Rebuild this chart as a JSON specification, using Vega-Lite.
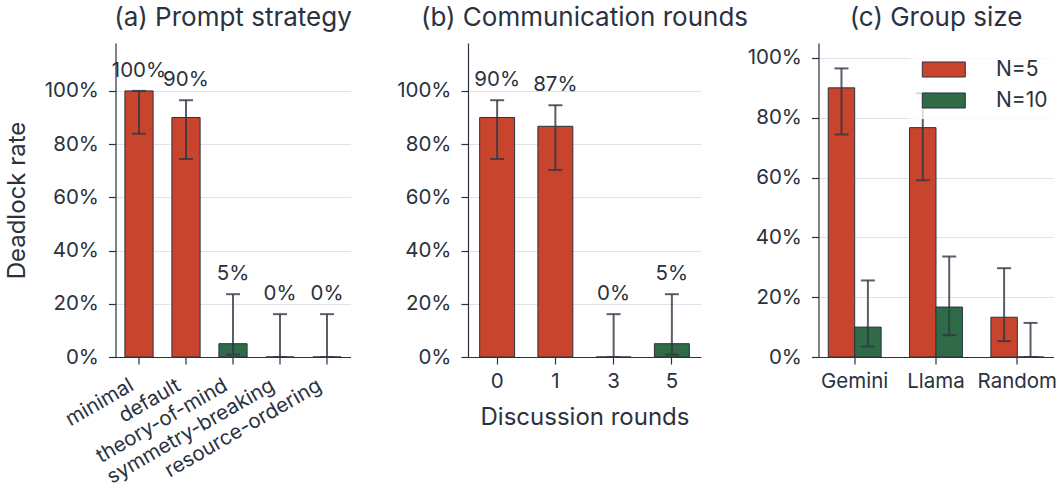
{
  "$schema": "https://vega.github.io/schema/vega-lite/v6.json",
  "background": "white",
  "padding": {"left": 4.5, "top": 5, "right": 3, "bottom": 2},
  "bounds": "flush",
  "spacing": 117.5,
  "config": {
    "font": "Inter",
    "view": {"stroke": null},
    "axis": {
      "labelFont": "Inter", "labelFontSize": 20.5, "labelColor": "#2a3240",
      "titleFont": "Inter", "titleFontSize": 24, "titleFontWeight": "normal", "titleColor": "#2a3240",
      "domainColor": "#2a3240", "domainWidth": 1.2,
      "tickColor": "#2a3240", "tickWidth": 1.2, "tickSize": 7,
      "gridColor": "#dfe2e8", "gridWidth": 1
    },
    "axisX": {"grid": false, "labelPadding": 7, "titlePadding": 14},
    "axisY": {"labelPadding": 10, "titlePadding": 15},
    "title": {"font": "Inter", "fontSize": 26, "fontWeight": "normal", "color": "#2a3240", "anchor": "middle", "baseline": "alphabetic", "offset": 12, "frame": "group"},
    "text": {"font": "Inter", "fontSize": 20.5, "color": "#2a3240"},
    "legend": {
      "title": null,
      "symbolType": "M-2,-0.7L2,-0.7L2,0.7L-2,0.7Z",
      "symbolSize": 462,
      "symbolStrokeColor": "#2a3240",
      "symbolStrokeWidth": 1,
      "symbolOpacity": 1,
      "symbolOffset": 13.8,
      "labelFont": "Inter",
      "labelFontSize": 21,
      "labelColor": "#2a3240",
      "labelOffset": 40.7,
      "rowPadding": 9,
      "padding": 8,
      "fillColor": "rgba(255,255,255,0.8)",
      "strokeColor": null
    }
  },
  "hconcat": [
    {
      "width": 235,
      "height": 314,
      "title": "(a) Prompt strategy",
      "data": {"values": [
        {"strategy": "minimal", "rate": 1.0, "lo": 0.839, "hi": 1.0},
        {"strategy": "default", "rate": 0.9, "lo": 0.744, "hi": 0.965},
        {"strategy": "theory-of-mind", "rate": 0.05, "lo": 0.009, "hi": 0.236},
        {"strategy": "symmetry-breaking", "rate": 0.0, "lo": 0.0, "hi": 0.161},
        {"strategy": "resource-ordering", "rate": 0.0, "lo": 0.0, "hi": 0.161}
      ]},
      "encoding": {
        "x": {"field": "strategy", "type": "nominal", "sort": null,
              "scale": {"paddingInner": 0.4, "paddingOuter": 0.2},
              "axis": {"title": null, "labelAngle": -30, "labelAlign": "right", "labelBaseline": "top", "labelPadding": 11, "labelOffset": -12, "labelLimit": 0}}
      },
      "layer": [
        {
          "mark": {"type": "bar", "stroke": "#2a3240", "strokeWidth": 1},
          "encoding": {
            "y": {"field": "rate", "type": "quantitative",
                  "scale": {"domain": [0, 1.18], "nice": false},
                  "axis": {"title": "Deadlock rate", "values": [0, 0.2, 0.4, 0.6, 0.8, 1.0], "format": ".0%"}},
            "color": {"condition": {"test": "datum.rate > 0.5", "value": "#c9442c"}, "value": "#2e6b46"}
          }
        },
        {
          "mark": {"type": "rule", "color": "#2f3744", "opacity": 0.8, "strokeWidth": 2},
          "encoding": {"y": {"field": "lo", "type": "quantitative"}, "y2": {"field": "hi"}}
        },
        {
          "mark": {"type": "tick", "color": "#2f3744", "opacity": 0.8, "size": 14, "thickness": 2},
          "encoding": {"y": {"field": "lo", "type": "quantitative"}}
        },
        {
          "mark": {"type": "tick", "color": "#2f3744", "opacity": 0.8, "size": 14, "thickness": 2},
          "encoding": {"y": {"field": "hi", "type": "quantitative"}}
        },
        {
          "mark": {"type": "text", "baseline": "middle", "dy": -20},
          "encoding": {"y": {"field": "hi", "type": "quantitative"}, "text": {"field": "rate", "type": "quantitative", "format": ".0%"}}
        }
      ]
    },
    {
      "width": 233,
      "height": 314,
      "title": "(b) Communication rounds",
      "data": {"values": [
        {"rounds": "0", "rate": 0.9, "lo": 0.744, "hi": 0.965},
        {"rounds": "1", "rate": 0.867, "lo": 0.703, "hi": 0.946},
        {"rounds": "3", "rate": 0.0, "lo": 0.0, "hi": 0.161},
        {"rounds": "5", "rate": 0.05, "lo": 0.009, "hi": 0.236}
      ]},
      "encoding": {
        "x": {"field": "rounds", "type": "nominal", "sort": null,
              "scale": {"paddingInner": 0.4, "paddingOuter": 0.2},
              "axis": {"title": "Discussion rounds", "labelAngle": 0}}
      },
      "layer": [
        {
          "mark": {"type": "bar", "stroke": "#2a3240", "strokeWidth": 1},
          "encoding": {
            "y": {"field": "rate", "type": "quantitative",
                  "scale": {"domain": [0, 1.18], "nice": false},
                  "axis": {"title": null, "values": [0, 0.2, 0.4, 0.6, 0.8, 1.0], "format": ".0%"}},
            "color": {"condition": {"test": "datum.rate > 0.5", "value": "#c9442c"}, "value": "#2e6b46"}
          }
        },
        {
          "mark": {"type": "rule", "color": "#2f3744", "opacity": 0.8, "strokeWidth": 2},
          "encoding": {"y": {"field": "lo", "type": "quantitative"}, "y2": {"field": "hi"}}
        },
        {
          "mark": {"type": "tick", "color": "#2f3744", "opacity": 0.8, "size": 14, "thickness": 2},
          "encoding": {"y": {"field": "lo", "type": "quantitative"}}
        },
        {
          "mark": {"type": "tick", "color": "#2f3744", "opacity": 0.8, "size": 14, "thickness": 2},
          "encoding": {"y": {"field": "hi", "type": "quantitative"}}
        },
        {
          "mark": {"type": "text", "baseline": "middle", "dy": -20},
          "encoding": {"y": {"field": "hi", "type": "quantitative"}, "text": {"field": "rate", "type": "quantitative", "format": ".0%"}}
        }
      ]
    },
    {
      "width": 235,
      "height": 314,
      "title": "(c) Group size",
      "resolve": {"scale": {"color": "independent"}, "legend": {"color": "independent"}},
      "data": {"values": [
        {"model": "Gemini", "N": "N=5", "rate": 0.9, "lo": 0.744, "hi": 0.965},
        {"model": "Gemini", "N": "N=10", "rate": 0.1, "lo": 0.035, "hi": 0.256},
        {"model": "Llama", "N": "N=5", "rate": 0.767, "lo": 0.591, "hi": 0.882},
        {"model": "Llama", "N": "N=10", "rate": 0.167, "lo": 0.073, "hi": 0.336},
        {"model": "Random", "N": "N=5", "rate": 0.133, "lo": 0.053, "hi": 0.297},
        {"model": "Random", "N": "N=10", "rate": 0.0, "lo": 0.0, "hi": 0.114}
      ]},
      "encoding": {
        "x": {"field": "model", "type": "nominal", "sort": null,
              "scale": {"paddingInner": 0.35, "paddingOuter": 0.12},
              "axis": {"title": null, "labelAngle": 0}},
        "xOffset": {"field": "N", "type": "nominal", "scale": {"domain": ["N=5", "N=10"], "paddingInner": 0, "paddingOuter": 0}}
      },
      "layer": [
        {
          "mark": {"type": "bar", "stroke": "#2a3240", "strokeWidth": 1},
          "encoding": {
            "y": {"field": "rate", "type": "quantitative",
                  "scale": {"domain": [0, 1.05], "nice": false},
                  "axis": {"title": null, "values": [0, 0.2, 0.4, 0.6, 0.8, 1.0], "format": ".0%"}},
            "color": {"field": "N", "type": "nominal",
                      "scale": {"domain": ["N=5", "N=10"], "range": ["#c9442c", "#2e6b46"]},
                      "legend": {"orient": "none", "legendX": 92, "legendY": 7}}
          }
        },
        {
          "mark": {"type": "rule", "color": "#2f3744", "opacity": 0.8, "strokeWidth": 2},
          "encoding": {"y": {"field": "lo", "type": "quantitative"}, "y2": {"field": "hi"}}
        },
        {
          "mark": {"type": "tick", "color": "#2f3744", "opacity": 0.8, "size": 14, "thickness": 2},
          "encoding": {"y": {"field": "lo", "type": "quantitative"}}
        },
        {
          "mark": {"type": "tick", "color": "#2f3744", "opacity": 0.8, "size": 14, "thickness": 2},
          "encoding": {"y": {"field": "hi", "type": "quantitative"}}
        }
      ]
    }
  ]
}
